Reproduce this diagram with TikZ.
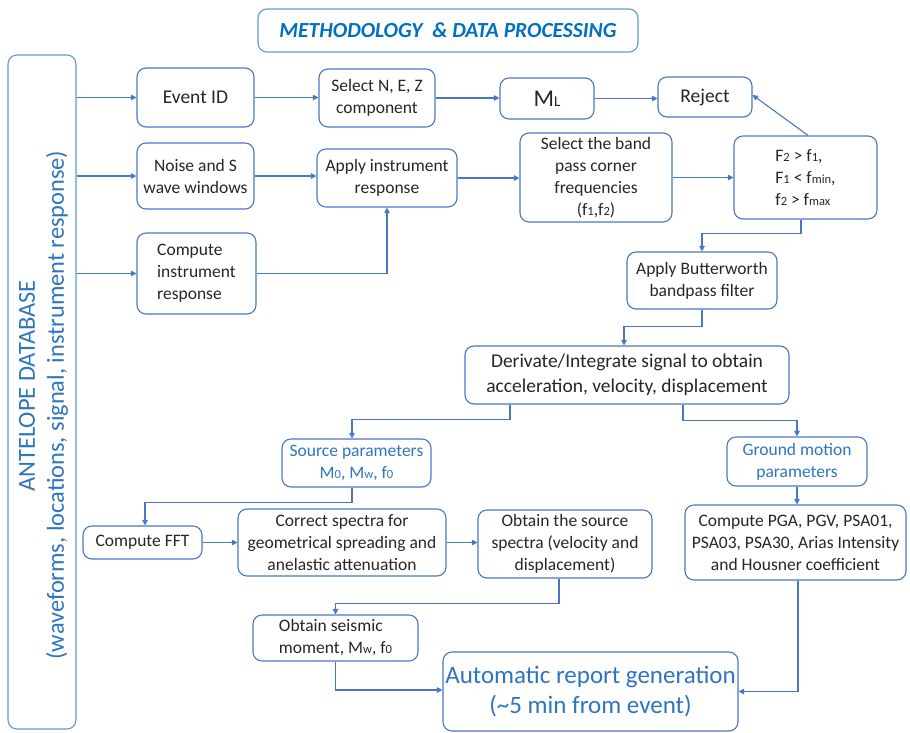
\documentclass[tikz,border=0pt]{standalone}
\usepackage{fontspec}
\setmainfont{Carlito}
\usetikzlibrary{arrows.meta,calc}
\definecolor{bord}{HTML}{4A76C6}
\definecolor{lbord}{HTML}{5B9BD5}
\definecolor{btext}{HTML}{2E75C0}
\definecolor{ttext}{HTML}{0070C0}
\definecolor{dtext}{HTML}{262626}
\newcommand\lo[1]{{\fontsize{12.5}{12.5}\selectfont #1}}
\newcommand\bx[6]{% name, l, t, r, b, style
  \node[box,#6,minimum width={#4-#2}, minimum height={#5-#3}] (#1) at ({(#2+#4)/2},{(#3+#5)/2})}
\tikzset{
  box/.style={draw=bord, line width=1.1pt, rounded corners=9pt, inner sep=2pt,
    text=dtext, font=\fontsize{17.5}{22}\selectfont, align=center},
  big/.style={font=\fontsize{19.5}{24}\selectfont},
  arr/.style={draw=bord, line width=1.1pt, -{Triangle[length=5.5pt,width=5.5pt]}},
  ln/.style={draw=bord, line width=1.1pt}
}
\begin{document}
\begin{tikzpicture}[x=1pt,y=-1pt]
\useasboundingbox (0,0) rectangle (910,732);
% title
\bx{title}{258}{9}{638}{52}{draw=lbord, text=ttext, font=\fontsize{21.5}{24}\selectfont\bfseries\itshape}{METHODOLOGY\ \ \& DATA PROCESSING};
% database
\bx{db}{8}{55}{76}{729}{draw=lbord}{};
\node[rotate=90, text=btext, font=\fontsize{24.5}{28}\selectfont, inner sep=0pt] (dbt1) at (27,386) {ANTELOPE DATABASE};
\node[rotate=90, text=btext, font=\fontsize{24.4}{28}\selectfont, inner sep=0pt] (dbt2) at (57,405) {(waveforms, locations, signal, instrument response)};
% row 1
\bx{ev}{137}{68}{254}{127}{big}{Event ID};
\bx{sel}{319}{69}{435}{127}{}{Select N, E, Z\\component};
\bx{ml}{500}{78}{594}{119}{font=\fontsize{24}{24}\selectfont}{M{\fontsize{15}{15}\selectfont L}};
\bx{rej}{658}{77}{752}{117}{big}{Reject};
% row 2
\bx{noise}{137}{143}{254}{209}{}{Noise and S\\wave windows};
\bx{app}{317}{149}{457}{207}{}{Apply instrument\\response};
\bx{band}{520}{133}{672}{222}{}{Select the band\\pass corner\\frequencies\\(f\lo{1},f\lo{2})};
\bx{f2}{734}{136}{877}{219}{align=left}{F\lo{2} > f\lo{1},\\F\lo{1} < f\lo{min},\\f\lo{2} > f\lo{max}};
\bx{comp}{137}{233}{256}{314}{align=left}{Compute\\instrument\\response};
% middle
\bx{bw}{627}{252}{777}{309}{}{Apply Butterworth\\bandpass filter};
\bx{der}{465}{346}{789}{404}{font=\fontsize{19.5}{25}\selectfont}{Derivate/Integrate signal to obtain\\acceleration, velocity, displacement};
\bx{src}{282}{439}{431}{487}{text=btext}{Source parameters\\M\lo{0}, M\lo{w}, f\lo{0}};
\bx{gnd}{727}{437}{867}{486}{text=btext}{Ground motion\\parameters};
% lower
\bx{fft}{83}{526}{202}{559}{}{Compute FFT};
\bx{cor}{238}{509}{446}{576}{}{Correct spectra for\\geometrical spreading and\\anelastic attenuation};
\bx{obt}{478}{510}{652}{578}{}{Obtain the source\\spectra (velocity and\\displacement)};
\bx{pga}{685}{505}{906}{580}{}{Compute PGA, PGV, PSA01,\\PSA03, PSA30, Arias Intensity\\and Housner coefficient};
\bx{seis}{253}{615}{418}{661}{align=left}{Obtain seismic\\moment, M\lo{w}, f\lo{0}};
\bx{auto}{443}{652}{738}{731}{text=btext, font=\fontsize{25}{30}\selectfont}{Automatic report generation\\(\textasciitilde5 min from event)};
% connectors
\draw[arr] (ev.west -| db.east) -- (ev.west);
\draw[arr] (noise.west -| db.east) -- (noise.west);
\draw[arr] (comp.west -| db.east) -- (comp.west);
\draw[arr] (ev.east) -- (ev.east -| sel.west);
\draw[arr] (sel.east) -- (sel.east -| ml.west);
\draw[arr] (ml.east) -- (ml.east -| rej.west);
\draw[arr] (noise.east) -- (noise.east -| app.west);
\draw[arr] (comp.east) -| (app.south);
\draw[arr] (app.east) -- (app.east -| band.west);
\draw[arr] (band.east) -- (f2.west);
\draw[arr] ([xshift=2.5]f2.north) -- ([yshift=2]rej.east);
\draw[arr] ([xshift=-4.5]f2.south) -- ++(0,14) -| (bw.north);
\draw[arr] (bw.south) -- ++(0,17) -| ([xshift=-3]der.north);
\draw[arr] ([xshift=-117]der.south) -- ++(0,15) -| ([xshift=-4.5]src.north);
\draw[arr] ([xshift=56]der.south) -- ++(0,16) -| (gnd.north);
\draw[arr] ([xshift=-4.5]src.south) -- ++(0,15) -| ([xshift=2.5]fft.north);
\draw[arr] (fft.east) -- (fft.east -| cor.west);
\draw[arr] (cor.east) -- (cor.east -| obt.west);
\draw[arr] (gnd.south) -- (gnd.south |- pga.north);
\draw[arr] ([xshift=-6]obt.south) -- ++(0,25) -| (seis.north);
\draw[arr] (seis.south) |- ([yshift=1.5]auto.west);
\draw[arr] ([xshift=2.5]pga.south) |- (auto.east);
\end{tikzpicture}
\end{document}
